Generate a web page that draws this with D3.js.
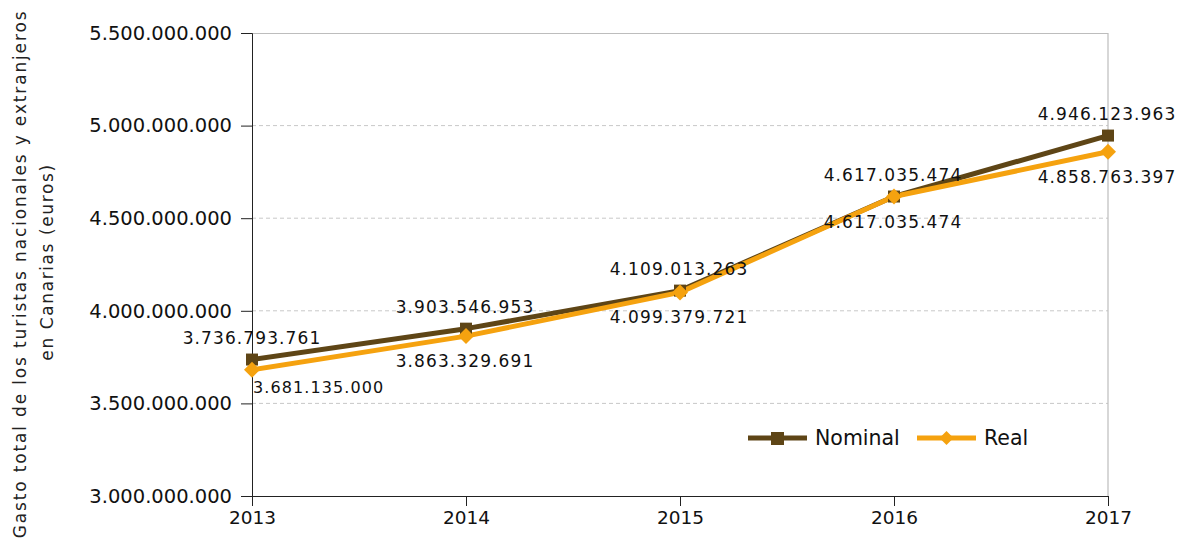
<!DOCTYPE html>
<html><head><meta charset="utf-8">
<script src="https://cdn.jsdelivr.net/npm/d3@7"></script>
<style>body{margin:0;background:#fff}svg{display:block;font-family:"DejaVu Sans",sans-serif}</style>
</head><body><svg id="c" width="1188" height="549"></svg>
<script>
const years = ["2013","2014","2015","2016","2017"];
const nominal = [3736793761, 3903546953, 4109013263, 4617035474, 4946123963];
const real = [3681135000, 3863329691, 4099379721, 4617035474, 4858763397];
const yTicks = [3000000000, 3500000000, 4000000000, 4500000000, 5000000000, 5500000000];
const seriesNames = ["Nominal", "Real"];
const yTitle = ["Gasto total de los turistas nacionales y extranjeros", "en Canarias (euros)"];

const svg = d3.select("#c");
const L = 252, R = 1108, T = 33, B = 496;
const x = d3.scalePoint().domain(years).range([L, R]);
const y = d3.scaleLinear().domain([3000000000, 5500000000]).range([B, T]);
const fmt = v => d3.format(",")(v).replace(/,/g, ".");

// grid
svg.append("g").selectAll("line").data(yTicks.slice(1, -1)).join("line")
  .attr("x1", L).attr("x2", R).attr("y1", d => y(d)).attr("y2", d => y(d))
  .attr("stroke", "#c8c8c8").attr("stroke-dasharray", "4,3").attr("stroke-width", 1);
// top & right border
svg.append("path").attr("d", `M${L},${y(5500000000)+0.5}H${R}V${B}`)
  .attr("fill", "none").attr("stroke", "#bdbdbd").attr("stroke-width", 1.2);

// y axis
const ya = svg.append("g").attr("transform", `translate(${L},0)`)
  .call(d3.axisLeft(y).tickValues(yTicks).tickFormat(fmt).tickSize(11).tickPadding(9));
ya.selectAll("text").attr("font-size", 19.5).attr("fill", "#111").attr("font-family", "DejaVu Sans");
ya.selectAll("line,path").attr("stroke", "#222");
// x axis
const xa = svg.append("g").attr("transform", `translate(0,${B})`)
  .call(d3.axisBottom(x).tickSize(10).tickPadding(5).tickSizeOuter(0));
xa.selectAll("text").attr("font-size", 18.5).attr("fill", "#111").attr("font-family", "DejaVu Sans");
xa.selectAll("line,path").attr("stroke", "#222");

// y title
const yt = svg.append("text").attr("transform", "translate(26,274) rotate(-90)")
  .attr("text-anchor", "middle").attr("font-size", 17).attr("fill", "#222")
  .attr("letter-spacing", 1.85);
yt.append("tspan").attr("x", 0).attr("y", 0).text(yTitle[0]);
yt.append("tspan").attr("x", 0).attr("y", 27).attr("dx", 12).attr("letter-spacing", 1.6).text(yTitle[1]);

const colors = ["#5e4516", "#f5a20f"];
const line = d3.line().x((d, i) => x(years[i])).y(d => y(d));
[nominal, real].forEach((s, k) => {
  svg.append("path").datum(s).attr("d", line).attr("fill", "none")
    .attr("stroke", colors[k]).attr("stroke-width", 5).attr("stroke-linejoin", "round");
});
// markers
svg.append("g").selectAll("rect").data(nominal).join("rect")
  .attr("x", (d, i) => x(years[i]) - 6).attr("y", d => y(d) - 6)
  .attr("width", 12).attr("height", 12).attr("fill", colors[0]);
svg.append("g").selectAll("path").data(real).join("path")
  .attr("transform", (d, i) => `translate(${x(years[i])},${y(d)})`)
  .attr("d", "M0,-8L8,0L0,8L-8,0Z").attr("fill", colors[1]);

// labels
svg.append("g").selectAll("text").data(nominal).join("text")
  .attr("x", (d, i) => x(years[i]) + (i === 0 ? 0 : -1)).attr("y", (d, i) => y(d) - 16)
  .attr("text-anchor", "middle").attr("font-size", 17).attr("letter-spacing", 1.1)
  .attr("fill", "#111").text(fmt);
svg.append("g").selectAll("text").data(real).join("text")
  .attr("x", (d, i) => i === 0 ? x(years[i]) + 1 : x(years[i]) - 1)
  .attr("y", (d, i) => y(d) + (i === 0 ? 23 : 31))
  .attr("text-anchor", (d, i) => i === 0 ? "start" : "middle")
  .attr("font-size", (d, i) => i === 0 ? 16 : 17).attr("letter-spacing", 1.1)
  .attr("fill", "#111").text(fmt);

// legend
const lg = svg.append("g");
const lx = [748, 917];
seriesNames.forEach((n, k) => {
  lg.append("line").attr("x1", lx[k]).attr("x2", lx[k] + 59).attr("y1", 438).attr("y2", 438)
    .attr("stroke", colors[k]).attr("stroke-width", 5);
  if (k === 0) lg.append("rect").attr("x", lx[k] + 23).attr("y", 432).attr("width", 13).attr("height", 13).attr("fill", colors[0]);
  else lg.append("path").attr("transform", `translate(${lx[k] + 29.5},438)`).attr("d", "M0,-7L7,0L0,7L-7,0Z").attr("fill", colors[1]);
  lg.append("text").attr("x", lx[k] + 67).attr("y", 445).attr("font-size", 20.5).attr("fill", "#111").text(n);
});
</script></body></html>
